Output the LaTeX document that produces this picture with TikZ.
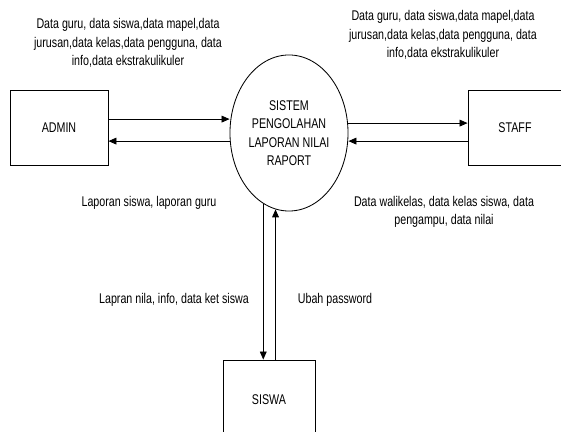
\documentclass[tikz,border=0pt]{standalone}
\usepackage{fontspec}
\setmainfont{Liberation Sans}[FakeStretch=0.76]
\usetikzlibrary{shapes.geometric,arrows.meta}

\begin{document}
\begin{tikzpicture}[x=0.025cm,y=-0.025cm,line width=0.6pt,
  entitas/.style={draw,rectangle,minimum width=2.45cm,minimum height=1.875cm,inner sep=0pt},
  proses/.style={draw,ellipse,minimum width=2.95cm,minimum height=3.9cm,inner sep=0pt,align=center},
  ket/.style={align=center,inner sep=0pt},
  every node/.style={font=\fontsize{10}{13.1}\selectfont},
  >={Triangle[length=2mm,width=1.7mm]}
]
\clip (0,0) rectangle (561,432);

% the entities and the process
\node[entitas] (admin) at (59,127.5) {ADMIN};
\node[proses] (sistem) at (289,133) {SISTEM\\PENGOLAHAN\\LAPORAN NILAI\\RAPORT};
\node[entitas,minimum width=2.35cm] (staff) at (515,127.5) {STAFF};
\node[entitas,minimum width=2.3cm,minimum height=2cm] (siswa) at (269,400) {SISWA};

% the flows
\draw[->] ([yshift=0.21cm]admin.east) -- ([yshift=0.21cm]admin.east -| sistem.west);
\draw[->] ([yshift=-0.34cm]admin.east -| sistem.west) -- ([yshift=-0.34cm]admin.east);
\draw[->] ([yshift=0.11cm]staff.west -| sistem.east) -- ([yshift=0.11cm]staff.west);
\draw[->] ([yshift=-0.34cm]staff.west) -- ([yshift=-0.34cm]staff.west -| sistem.east);
\draw[->] (sistem.250) -- (sistem.250 |- siswa.north);
\draw[->] (sistem.260 |- siswa.north) -- (sistem.260);

% the labels
\node[ket] (k1) at (128,43) {Data guru, data siswa,data mapel,data\\jurusan,data kelas,data pengguna, data\\info,data ekstrakulikuler};
\node[ket] (k2) at (443,35) {Data guru, data siswa,data mapel,data\\jurusan,data kelas,data pengguna, data\\info,data ekstrakulikuler};
\node[ket] (k3) at (149,203) {Laporan siswa, laporan guru};
\node[ket] (k4) at (444,212) {Data walikelas, data kelas siswa, data\\pengampu, data nilai};
\node[ket] (k5) at (174,300) {Lapran nila, info, data ket siswa};
\node[ket] (k6) at (335,300) {Ubah password};
\end{tikzpicture}
\end{document}
